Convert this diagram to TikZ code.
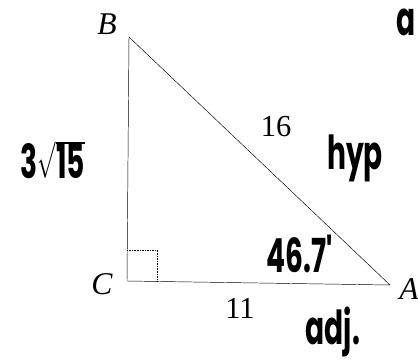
\documentclass[tikz,border=0pt]{standalone}
\usepackage{fontspec}
\setmainfont{Liberation Serif}
\newfontfamily\handfont{Poppins}
\usetikzlibrary{positioning}

\newcommand{\hw}[1]{\scalebox{0.75}[1.25]{#1}}

\tikzset{
  vertex/.style={font=\fontsize{27}{27}\selectfont\itshape},
  side/.style={font=\fontsize{26}{26}\selectfont},
  hand/.style={font=\handfont\bfseries\fontsize{32}{32}\selectfont, inner sep=0pt},
}

\begin{document}
\begin{tikzpicture}[x=0.03cm,y=-0.03cm]
\useasboundingbox (0,0) rectangle (418,364);

% triangle
\coordinate (B) at (129,37);
\coordinate (C) at (127,281);
\coordinate (A) at (390,285);
\draw[black,thin] (B) -- (A) -- (C) -- cycle;

% right angle
\draw[black,thin,densely dotted] (127,250) -- (157,250) -- (157,281);

% vertex names
\node[vertex] (labB) at (107,24) {B};
\node[vertex] (labC) at (102,284) {C};
\node[vertex] (labA) at (409,289) {A};

% printed sides
\node[side] (hyp) at (276,127) {16};
\node[side] (adj) at (240,308) {11};

% handwriting
\node[hand] (opp) at (53,160) {\hw{3$\sqrt{\mbox{15}}$}};
\node[hand] (hypw) at (355,158) {\hw{hyp}};
\node[hand] (ang) at (300,254) {\hw{46.7'}};
\node[hand] (adjw) at (333,332) {\hw{adj.}};
\node[hand] (part) at (406,22) {\hw{a}};

\end{tikzpicture}
\end{document}
